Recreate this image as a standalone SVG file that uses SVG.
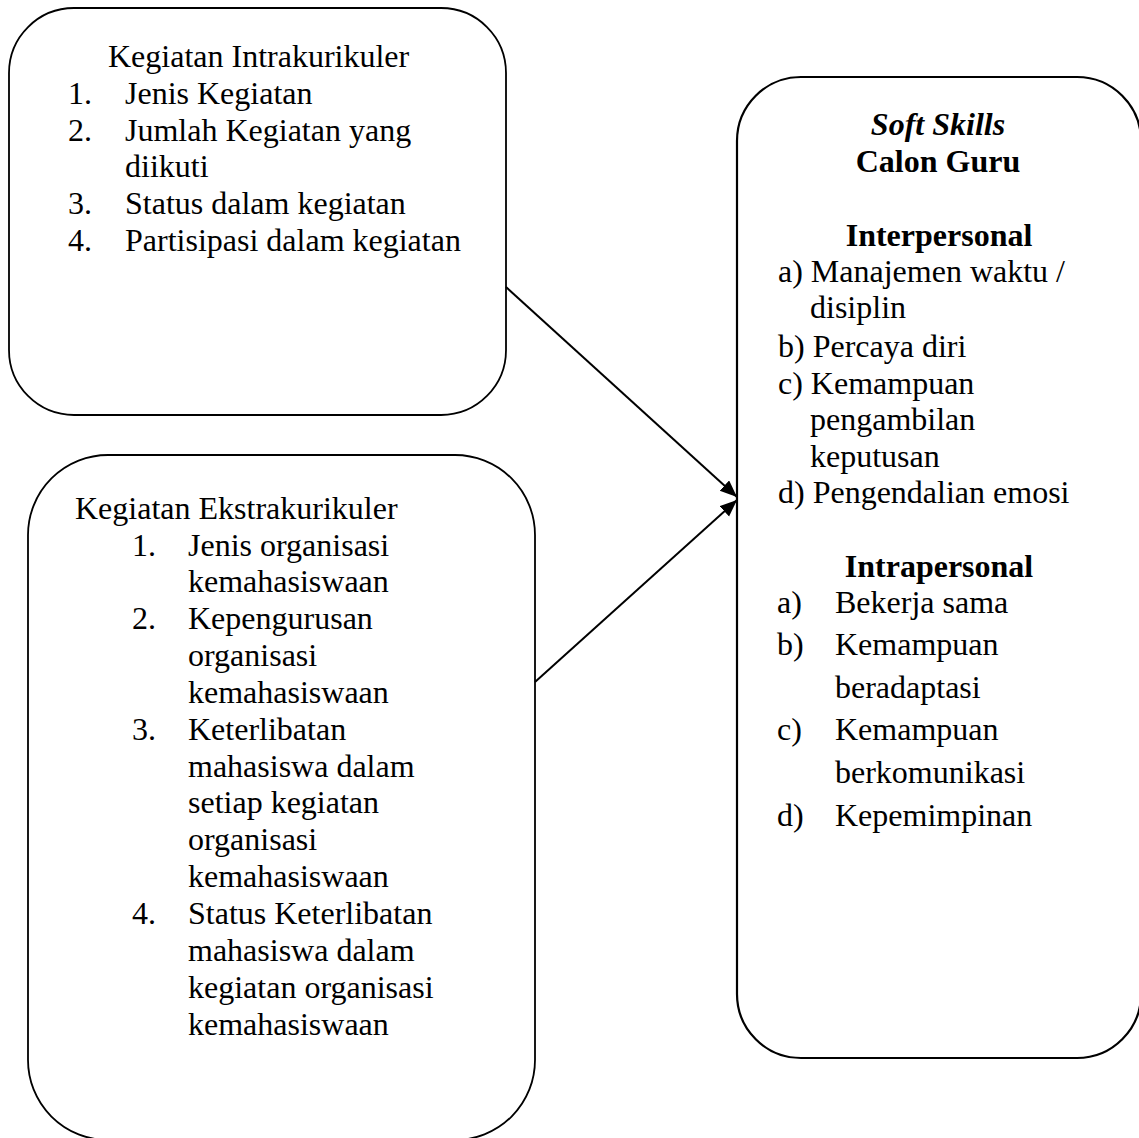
<svg xmlns="http://www.w3.org/2000/svg" width="1139" height="1138" viewBox="0 0 1139 1138">
<style>
  .box { fill: #ffffff; stroke: #000000; stroke-width: 1.8; }
  .t { font-family: "Liberation Serif", "Times New Roman", serif; font-size: 32px; fill: #000000; }
  .b { font-weight: bold; }
  .bi { font-weight: bold; font-style: italic; }
  .c { text-anchor: middle; }
  .conn { stroke: #000000; stroke-width: 2; fill: none; marker-end: url(#arrow); }
</style>
<defs>
  <marker id="arrow" markerUnits="userSpaceOnUse" markerWidth="20" markerHeight="16" refX="17" refY="7" orient="auto">
    <path d="M0,0 L17,7 L0,14 Z" fill="#000000"/>
  </marker>
</defs>
<rect x="0" y="0" width="1139" height="1138" fill="#ffffff"/>

<g id="node-intrakurikuler">
  <rect class="box" x="9" y="8" width="497" height="407" rx="65" ry="65"/>
  <text class="t" x="108" y="67">Kegiatan Intrakurikuler</text>
  <text class="t" x="68" y="104">1.</text><text class="t" x="125" y="104">Jenis Kegiatan</text>
  <text class="t" x="68" y="141">2.</text><text class="t" x="125" y="141">Jumlah Kegiatan yang</text>
  <text class="t" x="125" y="177">diikuti</text>
  <text class="t" x="68" y="214">3.</text><text class="t" x="125" y="214">Status dalam kegiatan</text>
  <text class="t" x="68" y="251">4.</text><text class="t" x="125" y="251">Partisipasi dalam kegiatan</text>
</g>

<g id="node-ekstrakurikuler">
  <rect class="box" x="28" y="455" width="507" height="685" rx="80" ry="80"/>
  <text class="t" x="75" y="519">Kegiatan Ekstrakurikuler</text>
  <text class="t" x="132" y="556">1.</text><text class="t" x="188" y="556">Jenis organisasi</text>
  <text class="t" x="188" y="592">kemahasiswaan</text>
  <text class="t" x="132" y="629">2.</text><text class="t" x="188" y="629">Kepengurusan</text>
  <text class="t" x="188" y="666">organisasi</text>
  <text class="t" x="188" y="703">kemahasiswaan</text>
  <text class="t" x="132" y="740">3.</text><text class="t" x="188" y="740">Keterlibatan</text>
  <text class="t" x="188" y="777">mahasiswa dalam</text>
  <text class="t" x="188" y="813">setiap kegiatan</text>
  <text class="t" x="188" y="850">organisasi</text>
  <text class="t" x="188" y="887">kemahasiswaan</text>
  <text class="t" x="132" y="924">4.</text><text class="t" x="188" y="924">Status Keterlibatan</text>
  <text class="t" x="188" y="961">mahasiswa dalam</text>
  <text class="t" x="188" y="998">kegiatan organisasi</text>
  <text class="t" x="188" y="1035">kemahasiswaan</text>
</g>

<g id="node-softskills">
  <rect class="box" x="737" y="77" width="404" height="981" rx="64" ry="64" style="stroke-width:2.2"/>
  <text class="t bi c" x="938" y="135">Soft Skills</text>
  <text class="t b c" x="938" y="172">Calon Guru</text>
  <text class="t b c" x="939" y="246">Interpersonal</text>
  <text class="t" x="778" y="282">a) Manajemen waktu /</text>
  <text class="t" x="810" y="318">disiplin</text>
  <text class="t" x="778" y="357">b) Percaya diri</text>
  <text class="t" x="778" y="394">c) Kemampuan</text>
  <text class="t" x="810" y="430">pengambilan</text>
  <text class="t" x="810" y="467">keputusan</text>
  <text class="t" x="778" y="503">d) Pengendalian emosi</text>
  <text class="t b c" x="939" y="577">Intrapersonal</text>
  <text class="t" x="777" y="613">a)</text><text class="t" x="835" y="613">Bekerja sama</text>
  <text class="t" x="777" y="655">b)</text><text class="t" x="835" y="655">Kemampuan</text>
  <text class="t" x="835" y="698">beradaptasi</text>
  <text class="t" x="777" y="740">c)</text><text class="t" x="835" y="740">Kemampuan</text>
  <text class="t" x="835" y="783">berkomunikasi</text>
  <text class="t" x="777" y="826">d)</text><text class="t" x="835" y="826">Kepemimpinan</text>
</g>

<g id="connectors">
  <line class="conn" x1="506" y1="287" x2="737" y2="497"/>
  <line class="conn" x1="535" y1="682" x2="737" y2="500"/>
</g>
</svg>
